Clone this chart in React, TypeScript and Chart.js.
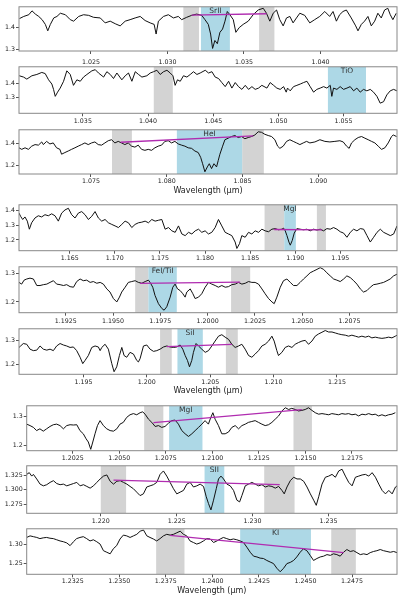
import React, { useEffect, useRef } from "react";
import { Chart, registerables } from "chart.js";

Chart.register(...registerables);

type Pt = [number, number];
type Span = [number, number];

// ---------- spectra (wavelength µm, flux) ----------
const specSrII: Pt[] = [
  [1.02033,1.442],[1.02061,1.452],[1.02094,1.460],[1.02115,1.478],[1.02137,1.463],[1.02159,1.452],[1.02181,1.437],[1.02202,1.415],[1.02218,1.385],[1.02235,1.415],
  [1.02257,1.445],[1.02278,1.452],[1.02300,1.467],[1.02333,1.460],[1.02365,1.437],[1.02387,1.430],[1.02420,1.452],[1.02452,1.460],[1.02485,1.457],[1.02517,1.448],
  [1.02561,1.445],[1.02593,1.422],[1.02626,1.430],[1.02659,1.418],[1.02691,1.408],[1.02724,1.430],[1.02756,1.437],[1.02789,1.445],[1.02822,1.452],[1.02854,1.433],
  [1.02887,1.422],[1.02913,1.415],[1.02926,1.370],[1.02941,1.430],[1.02974,1.452],[1.03006,1.460],[1.03039,1.445],[1.03071,1.452],[1.03093,1.437],[1.03126,1.448],
  [1.03158,1.457],[1.03191,1.463],[1.03224,1.457],[1.03245,1.437],[1.03267,1.415],[1.03282,1.370],[1.03295,1.303],[1.03310,1.340],[1.03326,1.325],[1.03343,1.378],
  [1.03360,1.393],[1.03376,1.430],[1.03391,1.475],[1.03408,1.460],[1.03430,1.437],[1.03447,1.378],[1.03469,1.400],[1.03495,1.415],[1.03528,1.430],[1.03560,1.460],
  [1.03593,1.482],[1.03626,1.490],[1.03647,1.467],[1.03669,1.430],[1.03691,1.467],[1.03713,1.482],[1.03734,1.437],[1.03756,1.408],[1.03778,1.445],[1.03800,1.452],
  [1.03821,1.422],[1.03843,1.445],[1.03865,1.467],[1.03897,1.457],[1.03930,1.422],[1.03962,1.437],[1.03995,1.452],[1.04028,1.475],[1.04060,1.452],[1.04082,1.475],
  [1.04104,1.430],[1.04125,1.460],[1.04147,1.475],[1.04169,1.482],[1.04201,1.445],[1.04230,1.408],[1.04245,1.385],[1.04267,1.415],[1.04288,1.430],[1.04310,1.452],
  [1.04332,1.408],[1.04354,1.430],[1.04375,1.467],[1.04397,1.445],[1.04419,1.482],[1.04440,1.490],[1.04456,1.460],[1.04473,1.437],[1.04495,1.467],
];

const specTiO: Pt[] = [
  [1.03012,1.451],[1.03045,1.442],[1.03070,1.428],[1.03109,1.451],[1.03147,1.460],[1.03185,1.474],[1.03211,1.466],[1.03237,1.423],[1.03262,1.394],[1.03275,1.357],
  [1.03288,1.309],[1.03306,1.338],[1.03326,1.366],[1.03352,1.413],[1.03377,1.485],[1.03403,1.460],[1.03428,1.385],[1.03454,1.423],[1.03480,1.413],[1.03505,1.442],
  [1.03531,1.460],[1.03569,1.485],[1.03595,1.493],[1.03620,1.470],[1.03659,1.442],[1.03684,1.479],[1.03710,1.460],[1.03735,1.432],[1.03761,1.470],[1.03799,1.423],
  [1.03825,1.451],[1.03850,1.470],[1.03876,1.413],[1.03902,1.479],[1.03927,1.460],[1.03953,1.442],[1.03991,1.451],[1.04017,1.470],[1.04042,1.479],[1.04068,1.489],
  [1.04093,1.460],[1.04119,1.479],[1.04145,1.489],[1.04170,1.470],[1.04191,1.451],[1.04208,1.385],[1.04226,1.423],[1.04247,1.413],[1.04272,1.451],[1.04298,1.442],
  [1.04324,1.460],[1.04349,1.479],[1.04375,1.460],[1.04400,1.470],[1.04439,1.489],[1.04464,1.470],[1.04490,1.479],[1.04515,1.442],[1.04541,1.432],[1.04566,1.404],
  [1.04592,1.376],[1.04618,1.413],[1.04643,1.366],[1.04669,1.404],[1.04694,1.376],[1.04720,1.357],[1.04746,1.385],[1.04771,1.357],[1.04797,1.376],[1.04822,1.357],
  [1.04848,1.366],[1.04873,1.385],[1.04912,1.366],[1.04937,1.404],[1.04963,1.385],[1.04988,1.366],[1.05014,1.357],[1.05040,1.376],[1.05060,1.338],[1.05070,1.366],
  [1.05091,1.347],[1.05116,1.376],[1.05142,1.385],[1.05168,1.394],[1.05193,1.404],[1.05219,1.413],[1.05244,1.376],[1.05270,1.338],[1.05295,1.357],[1.05321,1.366],
  [1.05347,1.376],[1.05372,1.366],[1.05398,1.385],[1.05410,1.309],[1.05423,1.366],[1.05449,1.357],[1.05474,1.376],[1.05500,1.357],[1.05526,1.366],[1.05551,1.376],
  [1.05577,1.347],[1.05602,1.366],[1.05628,1.338],[1.05653,1.357],[1.05679,1.347],[1.05705,1.357],[1.05730,1.338],[1.05756,1.309],[1.05781,1.262],[1.05807,1.272],
  [1.05832,1.319],[1.05858,1.347],[1.05884,1.357],[1.05909,1.347],
];

const specHeI: Pt[] = [
  [1.07025,1.359],[1.07043,1.345],[1.07065,1.359],[1.07087,1.345],[1.07109,1.374],[1.07131,1.388],[1.07153,1.383],[1.07175,1.412],[1.07186,1.388],[1.07207,1.417],
  [1.07229,1.394],[1.07251,1.403],[1.07273,1.359],[1.07295,1.345],[1.07306,1.301],[1.07328,1.316],[1.07350,1.330],[1.07372,1.345],[1.07394,1.359],[1.07416,1.374],
  [1.07438,1.388],[1.07460,1.403],[1.07482,1.388],[1.07504,1.403],[1.07526,1.412],[1.07548,1.388],[1.07570,1.383],[1.07592,1.403],[1.07614,1.423],[1.07636,1.432],
  [1.07658,1.403],[1.07680,1.417],[1.07702,1.403],[1.07724,1.388],[1.07746,1.403],[1.07768,1.374],[1.07790,1.365],[1.07812,1.383],[1.07834,1.345],[1.07856,1.336],
  [1.07878,1.345],[1.07900,1.336],[1.07922,1.359],[1.07944,1.374],[1.07966,1.383],[1.07988,1.417],[1.08010,1.423],[1.08032,1.403],[1.08054,1.417],[1.08076,1.394],
  [1.08098,1.383],[1.08120,1.374],[1.08142,1.359],[1.08164,1.354],[1.08186,1.330],[1.08208,1.316],[1.08224,1.273],[1.08237,1.215],[1.08252,1.142],[1.08268,1.186],
  [1.08281,1.215],[1.08296,1.171],[1.08312,1.215],[1.08329,1.186],[1.08340,1.244],[1.08351,1.301],[1.08369,1.374],[1.08384,1.432],[1.08406,1.446],[1.08428,1.461],
  [1.08450,1.470],[1.08472,1.452],[1.08494,1.461],[1.08516,1.441],[1.08538,1.452],[1.08560,1.461],[1.08582,1.475],[1.08604,1.504],[1.08626,1.499],[1.08648,1.481],
  [1.08670,1.470],[1.08692,1.461],[1.08714,1.432],[1.08732,1.374],[1.08747,1.354],[1.08769,1.374],[1.08791,1.417],[1.08813,1.432],[1.08835,1.417],[1.08857,1.403],
  [1.08879,1.388],[1.08901,1.403],[1.08923,1.417],[1.08945,1.403],[1.08978,1.412],[1.09011,1.432],[1.09044,1.417],[1.09077,1.412],[1.09110,1.417],[1.09143,1.423],
  [1.09165,1.412],[1.09187,1.374],[1.09204,1.354],[1.09220,1.403],[1.09242,1.432],[1.09264,1.452],[1.09286,1.461],[1.09308,1.446],[1.09330,1.432],[1.09352,1.417],
  [1.09374,1.403],[1.09396,1.374],[1.09418,1.345],[1.09440,1.359],[1.09462,1.403],[1.09484,1.461],[1.09495,1.475],[1.09517,1.461],
];

const specMgIa: Pt[] = [
  [1.15938,1.380],[1.15956,1.358],[1.15979,1.337],[1.16004,1.354],[1.16030,1.326],[1.16053,1.272],[1.16078,1.315],[1.16115,1.347],[1.16152,1.362],[1.16189,1.354],
  [1.16226,1.369],[1.16263,1.362],[1.16300,1.375],[1.16337,1.362],[1.16374,1.326],[1.16411,1.380],[1.16448,1.401],[1.16485,1.412],[1.16522,1.369],[1.16559,1.347],
  [1.16596,1.380],[1.16633,1.390],[1.16670,1.369],[1.16707,1.337],[1.16744,1.358],[1.16781,1.390],[1.16818,1.347],[1.16855,1.326],[1.16892,1.337],[1.16929,1.315],
  [1.16966,1.304],[1.17003,1.294],[1.17040,1.283],[1.17077,1.304],[1.17114,1.326],[1.17151,1.315],[1.17188,1.283],[1.17225,1.304],[1.17262,1.315],[1.17299,1.319],
  [1.17336,1.326],[1.17373,1.315],[1.17410,1.337],[1.17447,1.326],[1.17484,1.332],[1.17521,1.337],[1.17558,1.272],[1.17595,1.283],[1.17632,1.261],[1.17669,1.251],
  [1.17706,1.294],[1.17743,1.240],[1.17780,1.229],[1.17817,1.251],[1.17854,1.240],[1.17891,1.261],[1.17928,1.272],[1.17964,1.251],[1.18001,1.261],[1.18038,1.240],
  [1.18075,1.251],[1.18112,1.283],[1.18149,1.337],[1.18186,1.294],[1.18223,1.251],[1.18260,1.240],[1.18297,1.229],[1.18334,1.186],[1.18353,1.143],[1.18382,1.175],
  [1.18408,1.229],[1.18445,1.218],[1.18482,1.251],[1.18519,1.240],[1.18556,1.261],[1.18593,1.251],[1.18630,1.272],[1.18667,1.261],[1.18704,1.255],[1.18741,1.272],
  [1.18778,1.276],[1.18815,1.268],[1.18852,1.272],[1.18871,1.279],[1.18889,1.261],[1.18908,1.229],[1.18930,1.186],[1.18945,1.165],[1.18967,1.197],[1.18989,1.246],
  [1.19018,1.276],[1.19055,1.272],[1.19092,1.268],[1.19129,1.272],[1.19166,1.261],[1.19203,1.272],[1.19240,1.266],[1.19277,1.272],[1.19314,1.261],[1.19351,1.276],
  [1.19388,1.272],[1.19425,1.283],[1.19462,1.272],[1.19499,1.255],[1.19536,1.246],[1.19573,1.218],[1.19610,1.251],[1.19647,1.272],[1.19684,1.261],[1.19721,1.276],
  [1.19758,1.272],[1.19795,1.229],[1.19832,1.186],[1.19869,1.218],[1.19906,1.251],[1.19943,1.272],[1.19980,1.251],[1.20017,1.240],[1.20054,1.229],[1.20091,1.240],
  [1.20128,1.294],
];

const specFeTi: Pt[] = [
  [1.19003,1.269],[1.19017,1.263],[1.19030,1.277],[1.19044,1.281],[1.19061,1.284],[1.19079,1.281],[1.19097,1.258],[1.19114,1.258],[1.19132,1.261],[1.19150,1.263],
  [1.19167,1.269],[1.19185,1.275],[1.19202,1.263],[1.19220,1.261],[1.19238,1.258],[1.19255,1.261],[1.19273,1.254],[1.19291,1.252],[1.19308,1.272],[1.19326,1.281],
  [1.19343,1.275],[1.19361,1.277],[1.19379,1.269],[1.19396,1.272],[1.19414,1.266],[1.19432,1.269],[1.19449,1.263],[1.19467,1.246],[1.19484,1.235],[1.19502,1.212],
  [1.19520,1.200],[1.19534,1.217],[1.19546,1.235],[1.19564,1.252],[1.19581,1.269],[1.19599,1.272],[1.19617,1.275],[1.19634,1.269],[1.19652,1.266],[1.19670,1.272],
  [1.19687,1.277],[1.19696,1.269],[1.19710,1.252],[1.19722,1.223],[1.19740,1.194],[1.19758,1.177],[1.19770,1.171],[1.19784,1.183],[1.19802,1.217],[1.19816,1.252],
  [1.19828,1.263],[1.19841,1.246],[1.19855,1.240],[1.19869,1.229],[1.19881,1.217],[1.19890,1.235],[1.19908,1.246],[1.19922,1.229],[1.19934,1.212],[1.19952,1.217],
  [1.19969,1.229],[1.19987,1.252],[1.20005,1.269],[1.20022,1.263],[1.20040,1.258],[1.20057,1.252],[1.20075,1.258],[1.20093,1.252],[1.20110,1.254],[1.20128,1.261],
  [1.20146,1.263],[1.20163,1.269],[1.20181,1.263],[1.20199,1.266],[1.20216,1.272],[1.20234,1.269],[1.20251,1.269],[1.20269,1.263],[1.20287,1.246],[1.20304,1.229],
  [1.20322,1.212],[1.20340,1.200],[1.20352,1.194],[1.20366,1.217],[1.20384,1.252],[1.20401,1.275],[1.20419,1.281],[1.20437,1.269],[1.20454,1.258],[1.20472,1.258],
  [1.20489,1.269],[1.20507,1.281],[1.20525,1.292],[1.20542,1.303],[1.20560,1.309],[1.20578,1.315],[1.20595,1.321],[1.20613,1.315],[1.20630,1.303],[1.20648,1.292],
  [1.20666,1.281],[1.20683,1.277],[1.20701,1.272],[1.20719,1.281],[1.20736,1.292],[1.20754,1.286],[1.20772,1.275],[1.20789,1.263],[1.20807,1.246],[1.20824,1.235],
  [1.20842,1.240],[1.20860,1.252],[1.20877,1.261],[1.20895,1.263],[1.20913,1.266],[1.20930,1.269],[1.20948,1.275],[1.20965,1.281],[1.20983,1.292],[1.21001,1.298],
];

const specSiI: Pt[] = [
  [1.18992,1.270],[1.19005,1.276],[1.19026,1.286],[1.19053,1.283],[1.19079,1.263],[1.19105,1.257],[1.19132,1.259],[1.19158,1.276],[1.19184,1.263],[1.19211,1.259],
  [1.19237,1.263],[1.19263,1.257],[1.19289,1.276],[1.19316,1.286],[1.19342,1.280],[1.19368,1.276],[1.19395,1.270],[1.19421,1.272],[1.19447,1.257],[1.19474,1.230],
  [1.19495,1.204],[1.19513,1.217],[1.19539,1.237],[1.19566,1.270],[1.19592,1.276],[1.19618,1.272],[1.19632,1.257],[1.19645,1.270],[1.19671,1.283],[1.19697,1.263],
  [1.19724,1.204],[1.19742,1.171],[1.19763,1.191],[1.19784,1.237],[1.19803,1.270],[1.19821,1.237],[1.19842,1.230],[1.19868,1.250],[1.19895,1.243],[1.19921,1.217],
  [1.19934,1.211],[1.19947,1.224],[1.19974,1.276],[1.20000,1.280],[1.20026,1.263],[1.20053,1.254],[1.20079,1.257],[1.20105,1.263],[1.20132,1.272],[1.20158,1.276],
  [1.20184,1.272],[1.20211,1.270],[1.20237,1.272],[1.20263,1.280],[1.20284,1.263],[1.20303,1.237],[1.20321,1.217],[1.20337,1.191],[1.20355,1.217],[1.20368,1.250],
  [1.20389,1.286],[1.20408,1.276],[1.20434,1.263],[1.20461,1.250],[1.20487,1.257],[1.20513,1.276],[1.20539,1.296],[1.20566,1.316],[1.20592,1.322],[1.20618,1.312],
  [1.20645,1.303],[1.20671,1.283],[1.20697,1.270],[1.20724,1.276],[1.20750,1.283],[1.20776,1.263],[1.20803,1.237],[1.20829,1.230],[1.20855,1.243],[1.20882,1.257],
  [1.20908,1.276],[1.20934,1.283],[1.20961,1.296],[1.20987,1.316],[1.21005,1.296],[1.21026,1.257],[1.21039,1.237],[1.21066,1.250],[1.21092,1.270],[1.21118,1.276],
  [1.21145,1.270],[1.21171,1.283],[1.21197,1.290],[1.21224,1.296],[1.21250,1.299],[1.21276,1.283],[1.21303,1.296],[1.21329,1.316],[1.21355,1.325],[1.21382,1.332],
  [1.21408,1.339],[1.21434,1.333],[1.21461,1.333],[1.21487,1.329],[1.21513,1.325],[1.21539,1.322],[1.21566,1.320],[1.21592,1.316],[1.21618,1.320],[1.21645,1.316],
  [1.21671,1.312],[1.21697,1.316],[1.21724,1.312],[1.21750,1.316],[1.21776,1.309],[1.21803,1.312],[1.21829,1.309],[1.21855,1.307],[1.21882,1.309],[1.21908,1.312],
  [1.21934,1.309],[1.21961,1.316],[1.21974,1.320],
];

const specMgIb: Pt[] = [
  [1.20003,1.274],[1.20021,1.269],[1.20039,1.263],[1.20056,1.252],[1.20074,1.258],[1.20092,1.250],[1.20110,1.258],[1.20128,1.266],[1.20146,1.272],[1.20164,1.274],
  [1.20182,1.269],[1.20200,1.258],[1.20218,1.269],[1.20236,1.272],[1.20254,1.271],[1.20272,1.272],[1.20289,1.252],[1.20307,1.241],[1.20322,1.224],[1.20334,1.213],
  [1.20347,1.188],[1.20358,1.213],[1.20370,1.241],[1.20383,1.269],[1.20397,1.286],[1.20415,1.269],[1.20433,1.258],[1.20451,1.252],[1.20469,1.250],[1.20487,1.258],
  [1.20504,1.274],[1.20522,1.280],[1.20540,1.297],[1.20558,1.306],[1.20576,1.310],[1.20594,1.306],[1.20612,1.313],[1.20626,1.316],[1.20639,1.308],[1.20657,1.291],
  [1.20675,1.280],[1.20693,1.266],[1.20711,1.269],[1.20728,1.263],[1.20746,1.266],[1.20764,1.277],[1.20782,1.286],[1.20800,1.288],[1.20818,1.274],[1.20836,1.252],
  [1.20854,1.241],[1.20872,1.232],[1.20890,1.241],[1.20908,1.252],[1.20926,1.263],[1.20944,1.274],[1.20961,1.286],[1.20979,1.274],[1.20992,1.297],[1.21003,1.313],
  [1.21015,1.291],[1.21033,1.269],[1.21051,1.241],[1.21069,1.241],[1.21087,1.247],[1.21105,1.263],[1.21123,1.269],[1.21141,1.258],[1.21159,1.269],[1.21177,1.274],
  [1.21194,1.280],[1.21212,1.283],[1.21230,1.286],[1.21248,1.280],[1.21266,1.274],[1.21284,1.269],[1.21302,1.272],[1.21320,1.280],[1.21338,1.291],[1.21356,1.302],
  [1.21374,1.319],[1.21392,1.330],[1.21410,1.324],[1.21427,1.328],[1.21445,1.324],[1.21463,1.319],[1.21481,1.321],[1.21499,1.324],[1.21517,1.330],[1.21535,1.321],
  [1.21553,1.313],[1.21571,1.308],[1.21589,1.310],[1.21607,1.308],[1.21625,1.306],[1.21642,1.310],[1.21660,1.308],[1.21678,1.306],[1.21696,1.310],[1.21714,1.308],
  [1.21732,1.310],[1.21750,1.306],[1.21768,1.308],[1.21786,1.302],[1.21804,1.308],[1.21822,1.306],[1.21840,1.310],[1.21858,1.306],[1.21875,1.308],[1.21893,1.302],
  [1.21911,1.306],[1.21929,1.302],[1.21947,1.306],[1.21965,1.308],[1.21983,1.313],
];

const specSII: Pt[] = [
  [1.21512,1.327],[1.21529,1.330],[1.21545,1.324],[1.21556,1.327],[1.21578,1.319],[1.21600,1.310],[1.21622,1.307],[1.21644,1.309],[1.21666,1.313],[1.21688,1.316],
  [1.21710,1.311],[1.21732,1.309],[1.21754,1.310],[1.21776,1.307],[1.21798,1.309],[1.21820,1.311],[1.21842,1.313],[1.21864,1.307],[1.21886,1.309],[1.21908,1.306],
  [1.21930,1.303],[1.21952,1.307],[1.21974,1.313],[1.21996,1.319],[1.22018,1.324],[1.22040,1.326],[1.22062,1.315],[1.22084,1.310],[1.22106,1.315],[1.22128,1.316],
  [1.22150,1.313],[1.22172,1.310],[1.22193,1.306],[1.22215,1.302],[1.22237,1.296],[1.22259,1.290],[1.22281,1.293],[1.22303,1.305],[1.22325,1.307],[1.22347,1.309],
  [1.22369,1.313],[1.22391,1.327],[1.22413,1.333],[1.22435,1.324],[1.22457,1.313],[1.22479,1.302],[1.22501,1.293],[1.22523,1.296],[1.22545,1.299],[1.22567,1.310],
  [1.22589,1.313],[1.22611,1.305],[1.22633,1.307],[1.22655,1.310],[1.22677,1.306],[1.22695,1.288],[1.22710,1.276],[1.22726,1.265],[1.22743,1.282],[1.22761,1.302],
  [1.22776,1.319],[1.22792,1.324],[1.22809,1.319],[1.22831,1.310],[1.22853,1.307],[1.22875,1.299],[1.22897,1.282],[1.22915,1.279],[1.22930,1.290],[1.22952,1.307],
  [1.22974,1.310],[1.22996,1.313],[1.23018,1.310],[1.23040,1.307],[1.23062,1.309],[1.23084,1.305],[1.23106,1.307],[1.23128,1.306],[1.23150,1.303],[1.23172,1.306],
  [1.23194,1.299],[1.23209,1.293],[1.23227,1.305],[1.23249,1.316],[1.23271,1.322],[1.23293,1.319],[1.23315,1.319],[1.23337,1.315],[1.23359,1.305],[1.23381,1.293],
  [1.23403,1.282],[1.23420,1.273],[1.23436,1.288],[1.23458,1.310],[1.23480,1.322],[1.23502,1.324],[1.23524,1.327],[1.23546,1.322],[1.23568,1.333],[1.23590,1.336],
  [1.23612,1.324],[1.23634,1.313],[1.23656,1.307],[1.23678,1.322],[1.23700,1.324],[1.23722,1.326],[1.23744,1.327],[1.23766,1.324],[1.23788,1.330],[1.23810,1.322],
  [1.23832,1.310],[1.23854,1.299],[1.23876,1.293],[1.23898,1.299],[1.23920,1.293],[1.23942,1.305],[1.23953,1.307],
];

const specKI: Pt[] = [
  [1.23003,1.317],[1.23021,1.321],[1.23039,1.319],[1.23057,1.317],[1.23074,1.314],[1.23092,1.316],[1.23110,1.317],[1.23128,1.315],[1.23146,1.314],[1.23164,1.311],
  [1.23182,1.308],[1.23200,1.306],[1.23218,1.303],[1.23236,1.296],[1.23254,1.306],[1.23271,1.314],[1.23289,1.317],[1.23307,1.319],[1.23325,1.314],[1.23343,1.308],
  [1.23361,1.311],[1.23379,1.306],[1.23397,1.300],[1.23415,1.283],[1.23433,1.279],[1.23451,1.275],[1.23468,1.288],[1.23486,1.296],[1.23504,1.313],[1.23522,1.323],
  [1.23540,1.321],[1.23558,1.317],[1.23576,1.321],[1.23594,1.325],[1.23612,1.333],[1.23630,1.336],[1.23648,1.321],[1.23665,1.317],[1.23683,1.313],[1.23701,1.308],
  [1.23719,1.314],[1.23737,1.321],[1.23755,1.325],[1.23773,1.323],[1.23791,1.325],[1.23809,1.329],[1.23827,1.333],[1.23845,1.325],[1.23862,1.321],[1.23880,1.308],
  [1.23898,1.304],[1.23916,1.300],[1.23934,1.303],[1.23952,1.308],[1.23970,1.314],[1.23988,1.313],[1.24006,1.304],[1.24024,1.308],[1.24042,1.313],[1.24059,1.317],
  [1.24077,1.314],[1.24095,1.311],[1.24113,1.313],[1.24131,1.311],[1.24149,1.308],[1.24167,1.304],[1.24185,1.292],[1.24203,1.279],[1.24221,1.269],[1.24239,1.267],
  [1.24256,1.264],[1.24274,1.263],[1.24292,1.258],[1.24310,1.254],[1.24328,1.250],[1.24346,1.238],[1.24364,1.229],[1.24382,1.238],[1.24400,1.250],[1.24418,1.253],
  [1.24436,1.258],[1.24453,1.267],[1.24471,1.279],[1.24489,1.288],[1.24507,1.283],[1.24525,1.271],[1.24543,1.258],[1.24561,1.263],[1.24579,1.267],[1.24597,1.269],
  [1.24615,1.273],[1.24633,1.271],[1.24650,1.275],[1.24668,1.273],[1.24686,1.269],[1.24704,1.279],[1.24722,1.286],[1.24740,1.281],[1.24758,1.283],[1.24776,1.278],
  [1.24794,1.273],[1.24812,1.275],[1.24830,1.273],[1.24847,1.278],[1.24865,1.281],[1.24883,1.283],[1.24901,1.286],[1.24919,1.283],[1.24937,1.281],[1.24955,1.279],
  [1.24973,1.281],[1.24991,1.278],
];

// ---------- per-panel values ----------
const spectra: Pt[][] = [specSrII, specTiO, specHeI, specMgIa, specFeTi, specSiI, specMgIb, specSII, specKI];
const lineLabels = ["SrII", "TiO", "HeI", "MgI", "FeI/TiI", "SiI", "MgI", "SII", "KI"];

const xRanges: Span[] = [
  [1.0203, 1.0450], [1.0301, 1.0591], [1.07025, 1.0952], [1.15938, 1.20128], [1.19003, 1.21001],
  [1.18992, 1.21974], [1.20003, 1.21992], [1.21512, 1.23952], [1.23003, 1.24991],
];
const yRanges: Span[] = [
  [1.291, 1.497], [1.192, 1.513], [1.122, 1.522], [1.128, 1.4355], [1.1621, 1.3241],
  [1.1605, 1.3461], [1.1833, 1.3367], [1.2591, 1.342], [1.2225, 1.3392],
];

const xTicks1 = [1.025, 1.03, 1.035, 1.04];
const xTicks2 = [1.035, 1.04, 1.045, 1.05, 1.055];
const xTicks3 = [1.075, 1.08, 1.085, 1.09];
const xTicks4 = [1.165, 1.17, 1.175, 1.18, 1.185, 1.19, 1.195];
const xTicks5 = [1.1925, 1.195, 1.1975, 1.2, 1.2025, 1.205, 1.2075];
const xTicks6 = [1.195, 1.2, 1.205, 1.21, 1.215];
const xTicks7 = [1.2025, 1.205, 1.2075, 1.21, 1.2125, 1.215, 1.2175];
const xTicks8 = [1.22, 1.225, 1.23, 1.235];
const xTicks9 = [1.2325, 1.235, 1.2375, 1.24, 1.2425, 1.245, 1.2475];
const xTickSets = [xTicks1, xTicks2, xTicks3, xTicks4, xTicks5, xTicks6, xTicks7, xTicks8, xTicks9];
const xDecimals = [3, 3, 3, 3, 4, 3, 4, 3, 4];

const yTickSets: number[][] = [
  [1.3, 1.4], [1.3, 1.4], [1.2, 1.4], [1.2, 1.3, 1.4], [1.2, 1.3],
  [1.2, 1.3], [1.2, 1.3], [1.275, 1.3, 1.325], [1.25, 1.3],
];
const yDecimals = [1, 1, 1, 1, 1, 1, 1, 3, 2];

// continuum windows (grey) and line windows (blue)
const graySpans: Span[][] = [
  [[1.03104, 1.03206], [1.03599, 1.03699]],
  [[1.04044, 1.0419]],
  [[1.07639, 1.0777], [1.08498, 1.08641]],
  [[1.1866, 1.18878], [1.1924, 1.1934]],
  [[1.19617, 1.19687], [1.20124, 1.20225]],
  [[1.20105, 1.20197], [1.20624, 1.20718]],
  [[1.20634, 1.20737], [1.21436, 1.21535]],
  [[1.22, 1.22167], [1.23077, 1.23277]],
  [[1.23698, 1.2385], [1.24638, 1.2477]],
];
const blueSpans: Span[] = [
  [1.03219, 1.03408], [1.0538, 1.05672], [1.08067, 1.08498], [1.18878, 1.19007], [1.19687, 1.19837],
  [1.20242, 1.20442], [1.20768, 1.20947], [1.22684, 1.22814], [1.24149, 1.24529],
];

// fitted pseudo-continuum (magenta)
const fitLines: (Pt[] | null)[] = [
  [[1.03158, 1.458], [1.03647, 1.4646]],
  null,
  [[1.07696, 1.409], [1.08571, 1.467]],
  [[1.18767, 1.270], [1.19296, 1.268]],
  [[1.19643, 1.2655], [1.20172, 1.2701]],
  [[1.20158, 1.2737], [1.20671, 1.2829]],
  [[1.20684, 1.2789], [1.21481, 1.3233]],
  [[1.22084, 1.317], [1.23179, 1.3091]],
  [[1.23773, 1.3225], [1.24704, 1.2783]],
];

// ---------- layout (page pixels): frame top, frame bottom, frame left ----------
const FRAMES: [number, number, number][] = [
  [5, 51, 19], [65.7, 113.3, 19], [128, 174, 19], [203, 250.7, 19], [265.7, 312.7, 19],
  [327.3, 374.3, 19], [404.7, 450.7, 26.7], [464.7, 513.3, 26.7], [527.7, 574.3, 26.7],
];
const TICK_PAD = [5, 1, 1, 1, 1.5, 1, 1, 1, 0];
const FRAME_RIGHT = 397;
const FONT = '"DejaVu Sans", "Liberation Sans", sans-serif';

function Panel({ i }: { i: number }) {
  const ref = useRef<HTMLCanvasElement>(null);
  const [top, bottom, left] = FRAMES[i];
  const hasLabel = i === 2 || i === 5 || i === 8;
  const cTop = Math.floor(top) - 3;
  const H = Math.ceil(bottom) - cTop + (hasLabel ? 24 : 14);

  useEffect(() => {
    const canvas = ref.current;
    if (!canvas) return;
    const padTop = top - cTop;
    const areaBottom = bottom - cTop;
    const xT = xTickSets[i];
    const yT = yTickSets[i];

    const decor = {
      id: "decor",
      beforeDatasetsDraw(chart: any) {
        const { ctx, chartArea: a, scales } = chart;
        const x = scales.x;
        ctx.save();
        ctx.beginPath();
        ctx.rect(a.left, a.top, a.right - a.left, a.bottom - a.top);
        ctx.clip();
        ctx.fillStyle = "#d3d3d3";
        for (const [s, e] of graySpans[i]) {
          const x0 = x.getPixelForValue(s);
          const x1 = x.getPixelForValue(e);
          ctx.fillRect(x0, a.top, x1 - x0, a.bottom - a.top);
        }
        ctx.fillStyle = "#add8e6";
        const [bs, be] = blueSpans[i];
        const b0 = x.getPixelForValue(bs);
        const b1 = x.getPixelForValue(be);
        ctx.fillRect(b0, a.top, b1 - b0, a.bottom - a.top);
        ctx.restore();
      },
      afterDraw(chart: any) {
        const { ctx, chartArea: a, scales } = chart;
        const x = scales.x;
        ctx.save();
        ctx.strokeStyle = "#888";
        ctx.lineWidth = 1;
        ctx.strokeRect(a.left, a.top, a.right - a.left, a.bottom - a.top);
        const [bs, be] = blueSpans[i];
        const cx = (x.getPixelForValue(bs) + x.getPixelForValue(be)) / 2;
        ctx.fillStyle = "#333";
        ctx.font = `7.5px ${FONT}`;
        ctx.textAlign = "center";
        ctx.textBaseline = "middle";
        ctx.fillText(lineLabels[i], cx, a.top + 4.5);
        if (hasLabel) {
          ctx.fillStyle = "#222";
          ctx.font = `8px ${FONT}`;
          ctx.fillText("Wavelength (\u03bcm)", (a.left + a.right) / 2, a.bottom + 16.5);
        }
        ctx.restore();
      },
    };

    const datasets: any[] = [];
    const fit = fitLines[i];
    if (fit) {
      datasets.push({
        data: fit.map(([xv, yv]) => ({ x: xv, y: yv })),
        borderColor: "#b02cb0",
        borderWidth: 1.3,
        pointRadius: 0,
        tension: 0,
      });
    }
    datasets.push({
      data: spectra[i].map(([xv, yv]) => ({ x: xv, y: yv })),
      borderColor: "#111",
      borderWidth: 1,
      pointRadius: 0,
      tension: 0,
    });

    const chart = new Chart(canvas, {
      type: "line",
      data: { datasets },
      plugins: [decor],
      options: {
        responsive: false,
        animation: false,
        events: [],
        layout: { padding: { top: padTop, right: 400 - FRAME_RIGHT, left: 0, bottom: 0 } },
        plugins: { legend: { display: false }, tooltip: { enabled: false }, title: { display: false } },
        scales: {
          x: {
            type: "linear",
            min: xRanges[i][0],
            max: xRanges[i][1],
            afterFit: (s: any) => { s.height = H - areaBottom; },
            afterBuildTicks: (s: any) => { s.ticks = xT.map((v) => ({ value: v })); },
            ticks: {
              callback: (v: any) => Number(v).toFixed(xDecimals[i]),
              font: { family: FONT, size: 6.3 },
              color: "#222",
              maxRotation: 0,
              autoSkip: false,
              padding: TICK_PAD[i],
            },
            grid: { drawOnChartArea: false, tickLength: 3, color: "#555" },
            border: { display: false },
          },
          y: {
            type: "linear",
            min: yRanges[i][0],
            max: yRanges[i][1],
            afterFit: (s: any) => { s.width = left; },
            afterBuildTicks: (s: any) => { s.ticks = yT.map((v) => ({ value: v })); },
            ticks: {
              callback: (v: any) => Number(v).toFixed(yDecimals[i]),
              font: { family: FONT, size: 6.3 },
              color: "#222",
              autoSkip: false,
              padding: 1,
            },
            grid: { drawOnChartArea: false, tickLength: 3, color: "#555" },
            border: { display: false },
          },
        },
      } as any,
    });
    return () => chart.destroy();
  }, [i]);

  return (
    <div style={{ position: "absolute", left: 0, top: cTop, width: 400, height: H }}>
      <canvas ref={ref} width={400} height={H} style={{ display: "block", width: 400, height: H }} />
    </div>
  );
}

export default function App() {
  return (
    <div style={{ position: "absolute", left: 0, top: 0, width: 400, height: 599, background: "#fff", overflow: "hidden" }}>
      {FRAMES.map((_, i) => (
        <Panel key={i} i={i} />
      ))}
    </div>
  );
}
